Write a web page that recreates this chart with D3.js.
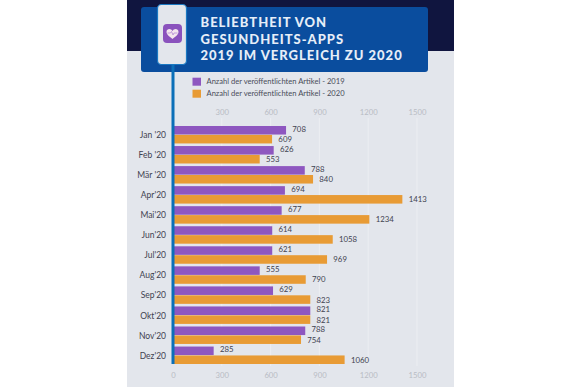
<!DOCTYPE html>
<html><head><meta charset="utf-8">
<script src="https://cdn.jsdelivr.net/npm/d3@7/dist/d3.min.js"></script>
<style>html,body{margin:0;padding:0;background:#fff}svg{display:block}text{font-family:Lato,sans-serif}</style>
</head><body><div id="c"></div>
<script>
const months=["Jan '20","Feb '20","Mär '20","Apr'20","Mai'20","Jun'20","Jul'20","Aug'20","Sep'20","Okt'20","Nov'20","Dez'20"];
// Numbers printed beside the bars in the reference
const labels2019=[708,626,788,694,677,614,621,555,629,821,788,285];
const labels2020=[609,553,840,1413,1234,1058,969,790,823,821,754,1060];
// Bar lengths as drawn in the reference, read against its axis (they differ from the printed numbers there)
const drawn2019=[695,619,810,688,668,610,610,533,615,844,813,250];
const drawn2020=[609,533,861,1410,1207,982,947,816,844,844,787,1055];
const tickValues=[0,300,600,900,1200,1500];
const titleLines=["BELIEBTHEIT VON","GESUNDHEITS-APPS","2019 IM VERGLEICH ZU 2020"];
const legendLabels=["Anzahl der veröffentlichten Artikel - 2019","Anzahl der veröffentlichten Artikel - 2020"];
const colors=["#8e57c0","#e89b35"];

const svg=d3.select("#c").append("svg").attr("width",580).attr("height",387);
svg.append("rect").attr("x",127).attr("y",0).attr("width",327).attr("height",387).attr("fill","#e3e6ec");
svg.append("rect").attr("x",127).attr("y",0).attr("width",327).attr("height",51).attr("fill","#10153f");

const x=d3.scaleLinear().domain([0,1500]).range([173,417]);
const y=d3.scaleBand().domain(months).range([126,364]).paddingInner(0.13).paddingOuter(0);
const inner=d3.scaleBand().domain([0,1]).range([0,y.bandwidth()]).paddingInner(0.04);

// grid
svg.append("g").selectAll("line").data(tickValues.slice(1)).join("line")
 .attr("x1",d=>x(d)).attr("x2",d=>x(d)).attr("y1",118).attr("y2",366)
 .attr("stroke","#eceef2").attr("stroke-width",1);

// axes
const axisStyle=g=>{g.select(".domain").remove();g.selectAll(".tick line").remove();
 g.selectAll("text").attr("fill","#b9bcc4").attr("font-size",7.7).attr("font-family","Lato");};
svg.append("g").attr("transform","translate(0,114.5)").call(d3.axisTop(x).tickValues(tickValues.slice(1)).tickFormat(d3.format("d")).tickSize(0).tickPadding(0)).call(axisStyle);
svg.append("g").attr("transform","translate(0,373)").call(d3.axisBottom(x).tickValues(tickValues).tickFormat(d3.format("d")).tickSize(0).tickPadding(0)).call(axisStyle);

// bars
const drawn=[drawn2019,drawn2020], printed=[labels2019,labels2020], labelShift=[-0.5,1];
drawn.forEach((vals,s)=>{
 const g=svg.append("g");
 g.selectAll("rect").data(vals).join("rect")
  .attr("x",x(0)).attr("y",(d,i)=>y(months[i])+inner(s))
  .attr("width",d=>x(d)-x(0)).attr("height",inner.bandwidth()).attr("fill",colors[s]);
 g.selectAll("text").data(vals).join("text")
  .attr("x",d=>x(d)+6.3).attr("y",(d,i)=>y(months[i])+inner(s)+inner.bandwidth()/2+labelShift[s])
  .attr("dominant-baseline","middle").attr("font-size",7.8).attr("fill","#3f4250").text((d,i)=>printed[s][i]);
});

// category labels
svg.append("g").selectAll("text").data(months).join("text")
 .attr("x",166).attr("y",d=>y(d)+y.bandwidth()/2+1.2).attr("text-anchor","end")
 .attr("dominant-baseline","middle").attr("font-size",8.5).attr("fill","#3f4250").text(d=>d);

// banner
svg.append("rect").attr("x",141).attr("y",7).attr("width",287).attr("height",65).attr("rx",3).attr("fill","#0a4d9e");
// stem
svg.append("rect").attr("x",171.5).attr("y",64).attr("width",3).attr("height",300).attr("fill","#0b6fb8");
// phone
svg.append("rect").attr("x",157.5).attr("y",4.5).attr("width",29).attr("height",60).attr("rx",4).attr("fill","#e3e6ec").attr("stroke","#1a78c2").attr("stroke-width",1.2);
// icon
svg.append("rect").attr("x",163).attr("y",24).attr("width",19).attr("height",19).attr("rx",4).attr("fill","#8a52bd");
svg.append("path").attr("transform","translate(172.5,33.5)")
 .attr("d","M0,5.5 C-2,3.8 -6,1.5 -6,-1.5 C-6,-3.8 -4.5,-4.5 -3.2,-4.5 C-1.8,-4.5 -0.6,-3.6 0,-2.6 C0.6,-3.6 1.8,-4.5 3.2,-4.5 C4.5,-4.5 6,-3.8 6,-1.5 C6,1.5 2,3.8 0,5.5 Z")
 .attr("fill","#f3e6ee");
svg.append("path").attr("transform","translate(172.5,33.5)")
 .attr("d","M-5,-0.5 L-2,-0.5 L-1,-2 L0.5,1.5 L1.5,-0.5 L5,-0.5")
 .attr("fill","none").attr("stroke","#b58ad6").attr("stroke-width",0.8);

// title
svg.append("g").selectAll("text").data(titleLines).join("text")
 .attr("x",200.5).attr("y",(d,i)=>27.3+i*16.4)
 .attr("font-size",13).attr("font-weight",900).attr("letter-spacing",1).attr("fill","#e6eef8").text(d=>d);

// legend
legendLabels.forEach((t,i)=>{
 svg.append("rect").attr("x",192.5).attr("y",77.7+i*12).attr("width",8.5).attr("height",8).attr("fill",colors[i]);
 svg.append("text").attr("x",206.5).attr("y",81.7+i*12).attr("dominant-baseline","middle").attr("font-size",7.6).attr("fill","#4a4d5a").text(t);
});
</script></body></html>
